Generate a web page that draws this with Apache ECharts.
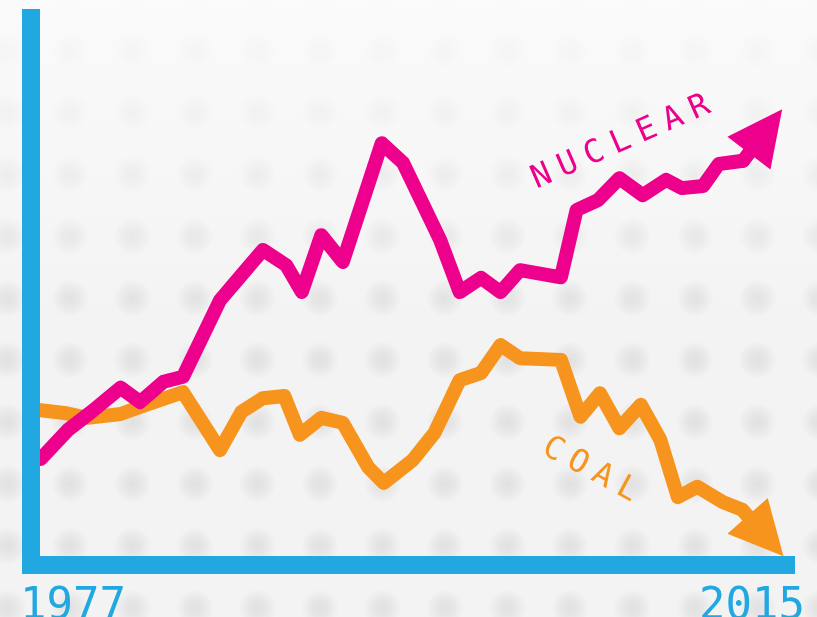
<!DOCTYPE html>
<html>
<head>
<meta charset="utf-8">
<script src="https://cdn.jsdelivr.net/npm/echarts@6/dist/echarts.min.js"></script>
<style>
  html, body { margin: 0; padding: 0; }
  #chart {
    width: 817px; height: 617px;
    background:
      linear-gradient(to bottom, rgba(251,251,251,0.9) 0px, rgba(251,251,251,0.5) 160px, rgba(251,251,251,0) 320px),
      radial-gradient(circle, rgba(0,0,0,0.075) 0px, rgba(0,0,0,0.055) 8px, rgba(0,0,0,0) 19px) 38.75px 19px / 62.5px 62px,
      #f3f3f3;
  }
</style>
</head>
<body>
<div id="chart"></div>
<script>
// ---- data (x = year, y = relative level 0..100) ----
const yearLabels = ['1977', '2015'];
const seriesNames = ['NUCLEAR', 'COAL'];

const nuclearYears  = [1977.0, 1978.4, 1979.6, 1981.1, 1982.1, 1983.3, 1984.3, 1986.2, 1987.3, 1988.4,
                       1989.6, 1990.4, 1991.4, 1992.5, 1994.5, 1995.6, 1997.5, 1998.5, 1999.6, 2000.6,
                       2001.6, 2003.7, 2004.5, 2005.6, 2006.7, 2007.9, 2009.1, 2009.9, 2011.0, 2011.8, 2013.05];
const nuclearValues = [19.4, 24.7, 28.0, 32.4, 29.8, 33.5, 34.4, 48.4, 53.0, 57.6,
                       54.8, 49.9, 60.3, 55.4, 77.1, 73.5, 59.4, 49.9, 52.5, 49.9,
                       53.9, 52.6, 64.9, 66.7, 70.7, 67.6, 70.4, 68.9, 69.3, 73.3, 73.9];
const nuclearArrowEnd = [2014.2, 79.3];

const coalYears  = [1977.0, 1978.2, 1979.4, 1981.1, 1982.1, 1984.3, 1986.2, 1987.3, 1988.4, 1989.5,
                    1990.3, 1991.4, 1992.5, 1993.8, 1994.6, 1996.1, 1997.2, 1998.5, 1999.6, 2000.6,
                    2001.6, 2003.7, 2004.7, 2005.7, 2006.7, 2007.8, 2008.8, 2009.7, 2010.7, 2012.0, 2013.0];
const coalValues = [28.3, 27.8, 26.9, 27.6, 28.9, 31.6, 21.0, 28.0, 30.5, 30.9,
                    23.8, 26.9, 26.0, 17.9, 15.0, 19.2, 24.1, 33.8, 35.1, 40.2,
                    37.8, 37.5, 27.1, 31.4, 25.0, 29.3, 22.9, 12.4, 14.3, 11.5, 10.1];
const coalArrowEnd = [2014.2, 5.3];

// ---- styling ----
const PINK = '#ec008c';
const ORANGE = '#f7941e';
const BLUE = '#22a8e0';
const LINE_W = 14;
const TRIANGLE = 'path://M50,0 L100,100 L0,100 Z';

function pairs(xs, ys) { return xs.map((x, i) => [x, ys[i]]); }

function arrowMark(xs, ys, end, color, size) {
  const last = [xs[xs.length - 1], ys[ys.length - 1]];
  return {
    silent: true,
    animation: false,
    symbol: ['none', TRIANGLE],
    symbolSize: size,
    label: { show: false },
    emphasis: { disabled: true },
    itemStyle: { color: color },
    lineStyle: { color: color, width: LINE_W, type: 'solid', opacity: 1, cap: 'round' },
    data: [[{ coord: last }, { coord: end }]]
  };
}

function letterGraphics(text, start, step, angleDeg, color, fontSize) {
  const a = angleDeg * Math.PI / 180;
  return text.split('').map((ch, i) => ({
    type: 'text',
    x: start[0] + i * step * Math.cos(a),
    y: start[1] - i * step * Math.sin(a),
    rotation: a,
    z: 10,
    style: {
      text: ch,
      fill: color,
      font: fontSize + 'px "DejaVu Sans Mono"',
      align: 'center',
      verticalAlign: 'middle'
    }
  }));
}

const chart = echarts.init(document.getElementById('chart'), null, { renderer: 'canvas' });

const option = {
  animation: false,
  backgroundColor: 'transparent',
  grid: [
    { left: 31, right: 31, top: 18, bottom: 52, outerBoundsMode: 'none', containLabel: false },
    { left: 20, right: 12, top: 18, bottom: 52, outerBoundsMode: 'none', containLabel: false }
  ],
  xAxis: [
    {
      type: 'value', gridIndex: 0, min: 1976.5, max: 2015.25, z: 5,
      axisLine: { show: true, onZero: false, lineStyle: { color: BLUE, width: 18, cap: 'square' } },
      axisTick: { show: false }, axisLabel: { show: false }, splitLine: { show: false }
    },
    {
      type: 'category', gridIndex: 1, data: yearLabels, boundaryGap: false,
      axisLine: { show: false }, axisTick: { show: false }, splitLine: { show: false },
      axisLabel: {
        show: true, interval: 0, margin: 21,
        color: BLUE, fontSize: 44, fontFamily: 'DejaVu Sans Mono',
        alignMinLabel: 'left', alignMaxLabel: 'right'
      }
    }
  ],
  yAxis: [
    {
      type: 'value', gridIndex: 0, min: 0, max: 100, z: 5,
      axisLine: { show: true, onZero: false, lineStyle: { color: BLUE, width: 18, cap: 'square' } },
      axisTick: { show: false }, axisLabel: { show: false }, splitLine: { show: false }
    },
    { type: 'value', gridIndex: 1, show: false, min: 0, max: 100 }
  ],
  series: [
    {
      name: seriesNames[1], type: 'line', xAxisIndex: 0, yAxisIndex: 0,
      data: pairs(coalYears, coalValues),
      showSymbol: false, symbol: 'none', smooth: false, z: 2,
      lineStyle: { color: ORANGE, width: LINE_W, join: 'round', cap: 'round' },
      itemStyle: { color: ORANGE },
      emphasis: { disabled: true },
      markLine: arrowMark(coalYears, coalValues, coalArrowEnd, ORANGE, [54, 54])
    },
    {
      name: seriesNames[0], type: 'line', xAxisIndex: 0, yAxisIndex: 0,
      data: pairs(nuclearYears, nuclearValues),
      showSymbol: false, symbol: 'none', smooth: false, z: 3,
      lineStyle: { color: PINK, width: LINE_W, join: 'round', cap: 'round' },
      itemStyle: { color: PINK },
      emphasis: { disabled: true },
      markLine: arrowMark(nuclearYears, nuclearValues, nuclearArrowEnd, PINK, [54, 55])
    }
  ],
  graphic: [
    ...letterGraphics(seriesNames[0], [542, 177], 28.7, 23.6, PINK, 32),
    ...letterGraphics(seriesNames[1], [553, 450], 28, -28.4, ORANGE, 32)
  ]
};

chart.setOption(option);
</script>
</body>
</html>
